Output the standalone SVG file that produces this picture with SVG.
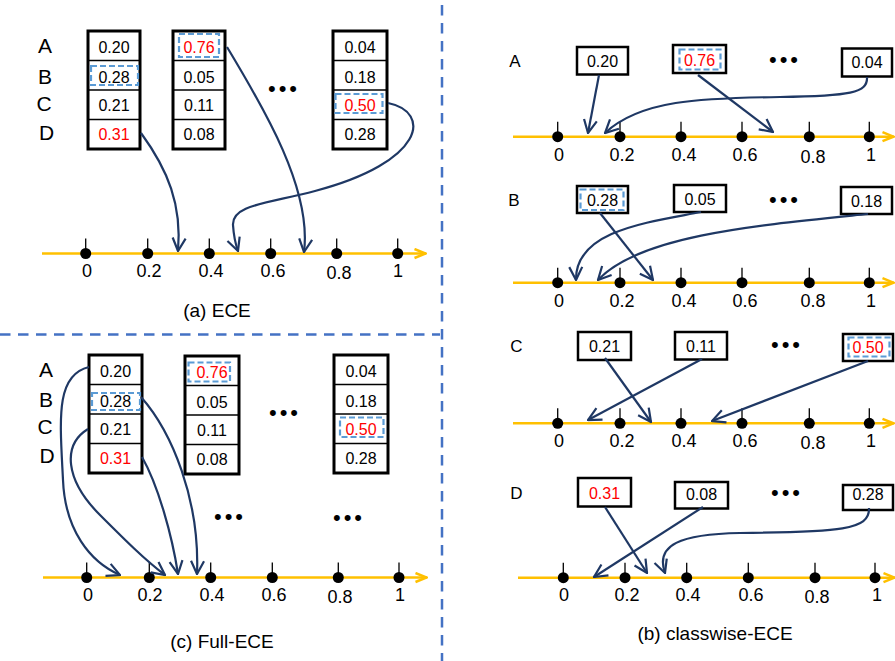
<svg xmlns="http://www.w3.org/2000/svg" width="895" height="661" viewBox="0 0 895 661">
<style>
text{font-family:"Liberation Sans",Arial,sans-serif;fill:#000}
.cv{font-size:16px;text-anchor:middle}
.red{fill:#FF0000}
.col{fill:#fff;stroke:#000;stroke-width:3}
.dv{stroke:#000;stroke-width:1.5}
.bx{fill:#fff;stroke:#000;stroke-width:2.5}
.hl{fill:none;stroke:#5B9BD5;stroke-width:2.2;stroke-dasharray:6 3}
.rl{font-size:21px;text-anchor:middle}
.rr{font-size:17px;text-anchor:middle}
.ax{stroke:#FFC000;stroke-width:2.5;marker-end:url(#oa)}
.tk{stroke:#000;stroke-width:1.3}
.al{font-size:18px;text-anchor:middle}
.cap{font-size:19px;text-anchor:middle}
.dots{font-size:22px;letter-spacing:3px;text-anchor:middle}
.c{fill:none;stroke:#1F3864;stroke-width:2.2;marker-end:url(#na)}
.sep{stroke:#4472C4;stroke-width:2.5;stroke-dasharray:10.5 7.5}
</style>
<defs>
<marker id="oa" viewBox="0 0 14 12" refX="13" refY="6" markerWidth="14" markerHeight="12" markerUnits="userSpaceOnUse" orient="auto">
<path d="M1.5,1.5 L12.5,6 L1.5,10.5" fill="none" stroke="#FFC000" stroke-width="2.5"/>
</marker>
<marker id="na" viewBox="0 0 15 16" refX="14" refY="8" markerWidth="15" markerHeight="16" markerUnits="userSpaceOnUse" orient="auto">
<path d="M1,1.5 L14,8 L1,14.5" fill="none" stroke="#1F3864" stroke-width="2.2"/>
</marker>
<g id="tick"><line class="tk" x1="0" y1="-15" x2="0" y2="0"/><circle r="5.5" fill="#000"/></g>
</defs>

<!-- separators -->
<g id="separators">
<line class="sep" x1="442" y1="5" x2="442" y2="661"/>
<line class="sep" x1="0" y1="334.5" x2="440" y2="334.5"/>
</g>

<!-- (a) ECE -->
<g id="a-labels">
<text class="rl" x="45" y="53">A</text>
<text class="rl" x="45" y="84">B</text>
<text class="rl" x="44" y="111">C</text>
<text class="rl" x="46.5" y="140">D</text>
</g>
<g id="a-col1">
<rect class="col" x="88" y="31" width="52" height="118"/>
<line class="dv" x1="88" y1="60.5" x2="140" y2="60.5"/>
<line class="dv" x1="88" y1="90" x2="140" y2="90"/>
<line class="dv" x1="88" y1="119.5" x2="140" y2="119.5"/>
<text class="cv" x="114" y="53">0.20</text>
<rect class="hl" x="91" y="66" width="47" height="19"/>
<text class="cv" x="114" y="82.5">0.28</text>
<text class="cv" x="114" y="111">0.21</text>
<text class="cv red" x="114" y="140">0.31</text>
</g>
<g id="a-col2">
<rect class="col" x="173" y="31" width="52" height="118"/>
<line class="dv" x1="173" y1="60.5" x2="225" y2="60.5"/>
<line class="dv" x1="173" y1="90" x2="225" y2="90"/>
<line class="dv" x1="173" y1="119.5" x2="225" y2="119.5"/>
<rect class="hl" x="179" y="34" width="40" height="23"/>
<text class="cv red" x="199" y="53">0.76</text>
<text class="cv" x="199" y="83">0.05</text>
<text class="cv" x="199" y="111">0.11</text>
<text class="cv" x="199" y="140">0.08</text>
</g>
<g id="a-dots"><text class="dots" x="284" y="96">•••</text></g>
<g id="a-col3">
<rect class="col" x="333" y="31" width="54" height="118"/>
<line class="dv" x1="333" y1="60.5" x2="387" y2="60.5"/>
<line class="dv" x1="333" y1="90" x2="387" y2="90"/>
<line class="dv" x1="333" y1="119.5" x2="387" y2="119.5"/>
<text class="cv" x="360" y="53">0.04</text>
<text class="cv" x="360" y="83">0.18</text>
<rect class="hl" x="335.5" y="94" width="47" height="19"/>
<text class="cv red" x="360" y="111">0.50</text>
<text class="cv" x="360" y="140">0.28</text>
</g>
<g id="a-axis">
<line class="ax" x1="42" y1="253.5" x2="426" y2="253.5"/>
<use href="#tick" x="85.7" y="253.5"/>
<use href="#tick" x="147.7" y="253.5"/>
<use href="#tick" x="209.3" y="253.5"/>
<use href="#tick" x="270.7" y="253.5"/>
<use href="#tick" x="336.7" y="253.5"/>
<use href="#tick" x="397.7" y="253.5"/>
<text class="al" x="87" y="277">0</text>
<text class="al" x="149" y="277">0.2</text>
<text class="al" x="211" y="277">0.4</text>
<text class="al" x="273" y="277">0.6</text>
<text class="al" x="339" y="279">0.8</text>
<text class="al" x="398" y="277">1</text>
</g>
<text class="cap" x="217" y="317">(a) ECE</text>
<g id="a-connectors">
<path class="c" d="M141,133 C168,170 182,205 178,251"/>
<path class="c" d="M227,47 C265,110 312,190 304,252"/>
<path class="c" d="M388,103 C432,112 425,162 315,191 C265,204 232,205 233,225 Q234,240 238,251"/>
</g>

<!-- (c) Full-ECE -->
<g id="c-labels">
<text class="rl" x="46" y="377">A</text>
<text class="rl" x="46" y="407">B</text>
<text class="rl" x="45" y="434">C</text>
<text class="rl" x="47" y="463">D</text>
</g>
<g id="c-col1">
<rect class="col" x="89" y="355" width="53" height="118"/>
<line class="dv" x1="89" y1="384.5" x2="142" y2="384.5"/>
<line class="dv" x1="89" y1="414" x2="142" y2="414"/>
<line class="dv" x1="89" y1="443.5" x2="142" y2="443.5"/>
<text class="cv" x="115.5" y="377">0.20</text>
<rect class="hl" x="92" y="393" width="48" height="17"/>
<text class="cv" x="115.5" y="407">0.28</text>
<text class="cv" x="115.5" y="435">0.21</text>
<text class="cv red" x="115.5" y="464">0.31</text>
</g>
<g id="c-col2">
<rect class="col" x="185" y="356" width="54" height="118"/>
<line class="dv" x1="185" y1="385.5" x2="239" y2="385.5"/>
<line class="dv" x1="185" y1="415" x2="239" y2="415"/>
<line class="dv" x1="185" y1="444.5" x2="239" y2="444.5"/>
<rect class="hl" x="188.5" y="362.5" width="41.5" height="19"/>
<text class="cv red" x="212" y="378">0.76</text>
<text class="cv" x="212" y="407.5">0.05</text>
<text class="cv" x="212" y="436">0.11</text>
<text class="cv" x="212" y="465">0.08</text>
</g>
<g id="c-dots">
<text class="dots" x="285" y="420">•••</text>
<text class="dots" x="230" y="524">•••</text>
<text class="dots" x="349" y="525">•••</text>
</g>
<g id="c-col3">
<rect class="col" x="334" y="355" width="54" height="118"/>
<line class="dv" x1="334" y1="384.5" x2="388" y2="384.5"/>
<line class="dv" x1="334" y1="414" x2="388" y2="414"/>
<line class="dv" x1="334" y1="443.5" x2="388" y2="443.5"/>
<text class="cv" x="361" y="377">0.04</text>
<text class="cv" x="361" y="406.5">0.18</text>
<rect class="hl" x="340" y="417.5" width="43.5" height="19.5"/>
<text class="cv red" x="361" y="434.5">0.50</text>
<text class="cv" x="361" y="464">0.28</text>
</g>
<g id="c-axis">
<line class="ax" x1="43" y1="577.5" x2="427" y2="577.5"/>
<use href="#tick" x="86.7" y="577.5"/>
<use href="#tick" x="149.3" y="577.5"/>
<use href="#tick" x="210.7" y="577.5"/>
<use href="#tick" x="272.3" y="577.5"/>
<use href="#tick" x="338.3" y="577.5"/>
<use href="#tick" x="399" y="577.5"/>
<text class="al" x="88" y="601">0</text>
<text class="al" x="150" y="601">0.2</text>
<text class="al" x="212" y="601">0.4</text>
<text class="al" x="274" y="601">0.6</text>
<text class="al" x="340" y="602.5">0.8</text>
<text class="al" x="400" y="601">1</text>
</g>
<text class="cap" x="222" y="648">(c) Full-ECE</text>
<g id="c-connectors">
<path class="c" d="M89,367 C55,375 60,420 63,480 C65,530 90,562 120,575"/>
<path class="c" d="M88,429 C62,445 65,480 100,515 C125,540 145,560 165,575"/>
<path class="c" d="M141,397 C172,432 200,500 197,574"/>
<path class="c" d="M142,457 C158,485 172,535 178,574"/>
</g>

<!-- (b) classwise-ECE : A -->
<g id="bA">
<text class="rr" x="515" y="67">A</text>
<rect class="bx" x="577" y="47" width="51" height="27.5"/>
<text class="cv" x="602.5" y="67">0.20</text>
<rect class="bx" x="673" y="45" width="53" height="28"/>
<rect class="hl" x="679.5" y="49.5" width="41" height="20"/>
<text class="cv red" x="699.5" y="66">0.76</text>
<text class="dots" x="785" y="67">•••</text>
<rect class="bx" x="842" y="48.5" width="50" height="28"/>
<text class="cv" x="867" y="68">0.04</text>
<line class="ax" x1="513" y1="136.7" x2="894" y2="136.7"/>
<use href="#tick" x="557.7" y="136.7"/>
<use href="#tick" x="620" y="136.7"/>
<use href="#tick" x="681" y="136.7"/>
<use href="#tick" x="742" y="136.7"/>
<use href="#tick" x="809.3" y="136.7"/>
<use href="#tick" x="869.3" y="136.7"/>
<text class="al" x="559" y="161">0</text>
<text class="al" x="622" y="161">0.2</text>
<text class="al" x="684" y="161">0.4</text>
<text class="al" x="745" y="161">0.6</text>
<text class="al" x="813" y="163">0.8</text>
<text class="al" x="871" y="161">1</text>
</g>
<!-- B -->
<g id="bB">
<text class="rr" x="514" y="206">B</text>
<rect class="bx" x="577" y="186" width="51" height="27"/>
<rect class="hl" x="580.5" y="189.5" width="43" height="20.5"/>
<text class="cv" x="602.5" y="206">0.28</text>
<rect class="bx" x="674" y="185" width="52" height="27"/>
<text class="cv" x="700" y="205">0.05</text>
<text class="dots" x="785" y="207">•••</text>
<rect class="bx" x="841" y="187" width="51" height="27"/>
<text class="cv" x="866.5" y="206.5">0.18</text>
<line class="ax" x1="513" y1="282.7" x2="894" y2="282.7"/>
<use href="#tick" x="557.7" y="282.7"/>
<use href="#tick" x="620" y="282.7"/>
<use href="#tick" x="681" y="282.7"/>
<use href="#tick" x="742" y="282.7"/>
<use href="#tick" x="809.3" y="282.7"/>
<use href="#tick" x="869.3" y="282.7"/>
<text class="al" x="559" y="307">0</text>
<text class="al" x="622" y="307">0.2</text>
<text class="al" x="684" y="307">0.4</text>
<text class="al" x="745" y="307">0.6</text>
<text class="al" x="813" y="307">0.8</text>
<text class="al" x="871" y="307">1</text>
</g>
<!-- C -->
<g id="bC">
<text class="rr" x="516.5" y="352">C</text>
<rect class="bx" x="578" y="332" width="53" height="28"/>
<text class="cv" x="604.5" y="352">0.21</text>
<rect class="bx" x="675" y="332" width="52" height="27.5"/>
<text class="cv" x="701" y="352">0.11</text>
<text class="dots" x="787" y="352">•••</text>
<rect class="bx" x="843" y="334" width="50" height="27"/>
<rect class="hl" x="848.5" y="337.5" width="41" height="19"/>
<text class="cv red" x="868" y="353">0.50</text>
<line class="ax" x1="513" y1="423.3" x2="894" y2="423.3"/>
<use href="#tick" x="557.7" y="423.3"/>
<use href="#tick" x="620" y="423.3"/>
<use href="#tick" x="681" y="423.3"/>
<use href="#tick" x="742" y="423.3"/>
<use href="#tick" x="809.3" y="423.3"/>
<use href="#tick" x="869.3" y="423.3"/>
<text class="al" x="559" y="447">0</text>
<text class="al" x="622" y="447">0.2</text>
<text class="al" x="684" y="447">0.4</text>
<text class="al" x="745" y="447">0.6</text>
<text class="al" x="813" y="449">0.8</text>
<text class="al" x="871" y="447">1</text>
</g>
<!-- D -->
<g id="bD">
<text class="rr" x="516.5" y="499">D</text>
<rect class="bx" x="578" y="478" width="53" height="28.5"/>
<text class="cv red" x="604.5" y="499">0.31</text>
<rect class="bx" x="675" y="482" width="53" height="26.5"/>
<text class="cv" x="701.5" y="499.5">0.08</text>
<text class="dots" x="787" y="499.5">•••</text>
<rect class="bx" x="843" y="485" width="50" height="25"/>
<text class="cv" x="868" y="500">0.28</text>
<line class="ax" x1="518" y1="577.7" x2="895" y2="577.7"/>
<use href="#tick" x="563.3" y="577.7"/>
<use href="#tick" x="625" y="577.7"/>
<use href="#tick" x="686.7" y="577.7"/>
<use href="#tick" x="748.3" y="577.7"/>
<use href="#tick" x="815" y="577.7"/>
<use href="#tick" x="875" y="577.7"/>
<text class="al" x="564" y="601">0</text>
<text class="al" x="627" y="601">0.2</text>
<text class="al" x="688" y="601">0.4</text>
<text class="al" x="751" y="601">0.6</text>
<text class="al" x="817" y="603">0.8</text>
<text class="al" x="877" y="601">1</text>
</g>
<text class="cap" x="715" y="640">(b) classwise-ECE</text>
<g id="b-connectors">
<path class="c" d="M599,75 L588,133"/>
<path class="c" d="M698,75 L773,132"/>
<path class="c" d="M867,77 C868,93 850,96 780,97 C700,98 640,100 605,133"/>
<path class="c" d="M600,213 L653,280"/>
<path class="c" d="M701,212 C650,222 575,230 576,280"/>
<path class="c" d="M868,214 C760,225 640,235 598,280"/>
<path class="c" d="M605,358 L651,422"/>
<path class="c" d="M702,359 L588,420"/>
<path class="c" d="M868,361 L712,421"/>
<path class="c" d="M605,507 L647,573"/>
<path class="c" d="M703,507 L594,577"/>
<path class="c" d="M869,508 C870,530 840,532 740,533 C680,534 655,545 665,573"/>
</g>
</svg>
